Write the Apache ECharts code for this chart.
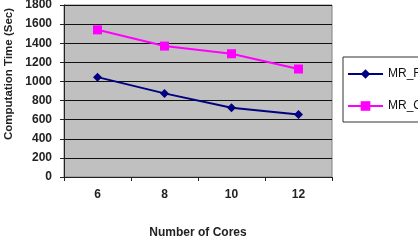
<!DOCTYPE html>
<html>
<head>
<meta charset="utf-8">
<script src="https://cdn.jsdelivr.net/npm/echarts@6/dist/echarts.min.js"></script>
<style>
  html, body { margin: 0; padding: 0; background: #fff; }
  #chart { width: 418px; height: 246px; }
</style>
</head>
<body>
<div id="chart"></div>
<script>
const cores = ['6', '8', '10', '12']
const mrFast = [1045, 875, 725, 655]
const mrC = [1540, 1370, 1290, 1130]
const seriesNames = ['MR_FCM', 'MR_CM']

const chart = echarts.init(document.getElementById('chart'))

const labelFont = {
  fontFamily: 'Liberation Sans',
  fontWeight: 'bold',
  fontSize: 12,
  color: '#222'
}

const option = {
  animation: false,
  backgroundColor: '#fff',
  grid: {
    left: 64,
    right: 86,
    top: 5,
    bottom: 69,
    outerBoundsMode: 'none',
    containLabel: false,
    show: true,
    backgroundColor: '#c0c0c0',
    borderColor: '#808080',
    borderWidth: 1
  },
  legend: {
    orient: 'vertical',
    left: 343,
    top: 57,
    padding: [11, 80, 10, 4],
    itemWidth: 35,
    itemHeight: 12,
    itemGap: 20,
    borderColor: '#333',
    borderWidth: 1,
    textStyle: {
      fontFamily: 'Liberation Sans',
      fontSize: 12,
      color: '#111'
    },
    data: seriesNames
  },
  xAxis: {
    type: 'category',
    data: cores,
    boundaryGap: true,
    name: 'Number of Cores',
    nameLocation: 'middle',
    nameGap: 50,
    nameTextStyle: labelFont,
    axisLine: { lineStyle: { color: '#222', width: 1 } },
    axisTick: { show: true, length: 4, lineStyle: { color: '#222' } },
    axisLabel: Object.assign({ margin: 12 }, labelFont),
    splitLine: { show: false }
  },
  yAxis: {
    type: 'value',
    min: 0,
    max: 1800,
    interval: 200,
    name: 'Computation Time (Sec)',
    nameLocation: 'middle',
    nameGap: 46,
    nameTextStyle: Object.assign({ padding: [0, 0, 0, 34] }, labelFont, { fontSize: 11.5 }),
    axisLine: { show: true, lineStyle: { color: '#222', width: 1 } },
    axisTick: { show: true, length: 4, lineStyle: { color: '#222' } },
    axisLabel: Object.assign({ margin: 12, formatter: v => String(v) }, labelFont),
    splitLine: { lineStyle: { color: '#111', width: 1 } }
  },
  series: [
    {
      name: seriesNames[0],
      type: 'line',
      data: mrFast,
      symbol: 'diamond',
      symbolSize: 9,
      lineStyle: { color: '#000080', width: 2 },
      itemStyle: { color: '#000080' }
    },
    {
      name: seriesNames[1],
      type: 'line',
      data: mrC,
      symbol: 'rect',
      symbolSize: 9,
      lineStyle: { color: '#ff00ff', width: 2 },
      itemStyle: { color: '#ff00ff' }
    }
  ]
}

chart.setOption(option)
</script>
</body>
</html>
